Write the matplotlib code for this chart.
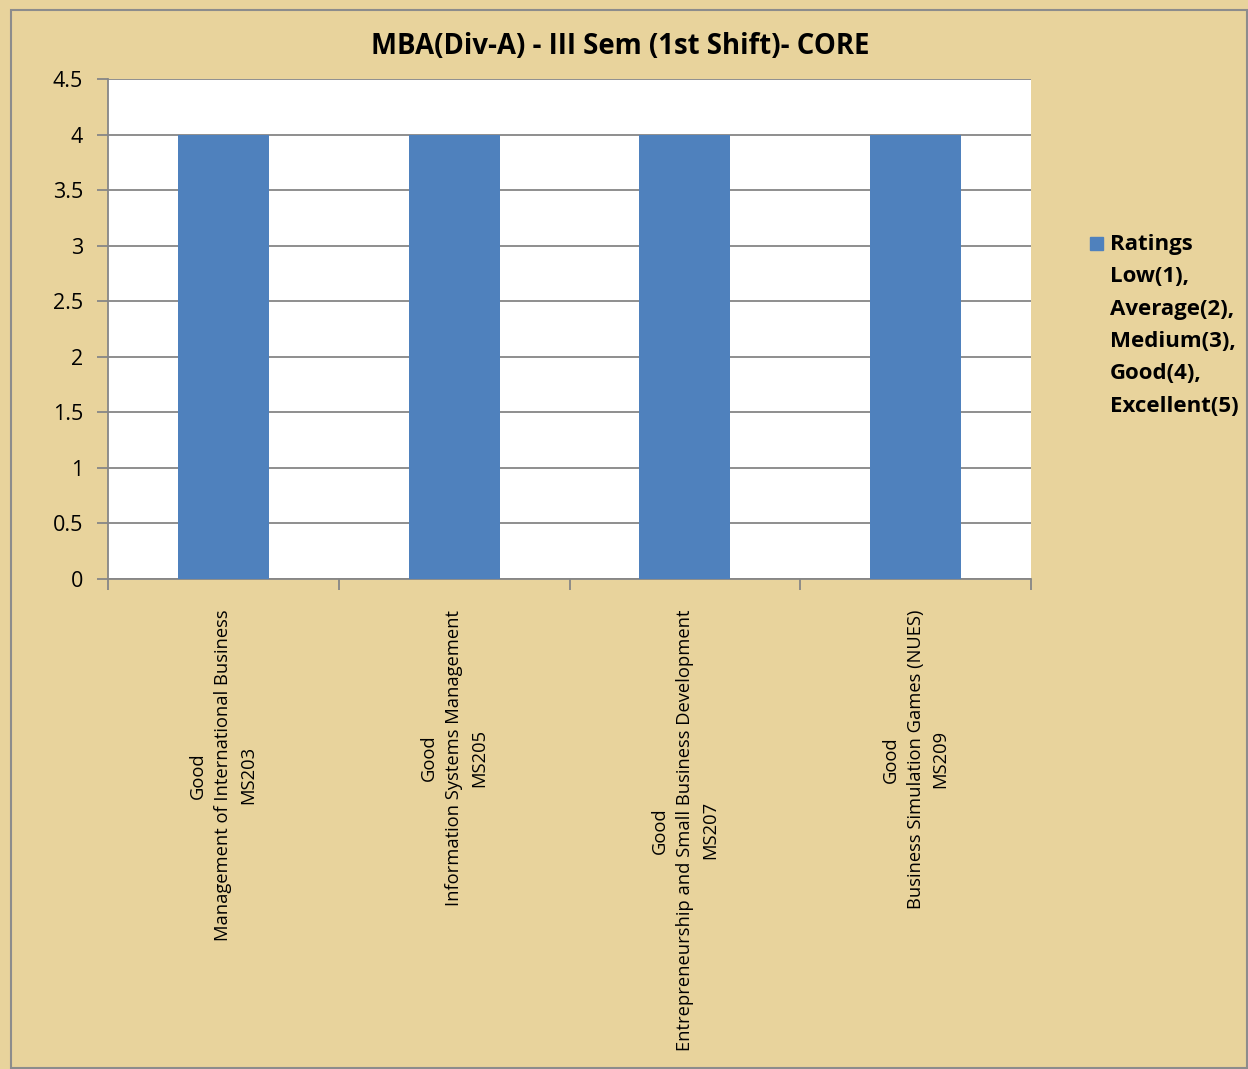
import matplotlib
matplotlib.use("Agg")
import matplotlib.pyplot as plt
import numpy as np
from matplotlib.patches import Rectangle

title = "MBA(Div-A) - III Sem (1st Shift)- CORE"
categories = [
    "Good\nManagement of International Business\nMS203",
    "Good\nInformation Systems Management\nMS205",
    "Good\nEntrepreneurship and Small Business Development\nMS207",
    "Good\nBusiness Simulation Games (NUES)\nMS209",
]
values = [4, 4, 4, 4]
series_name = "Ratings\nLow(1),\nAverage(2),\nMedium(3),\nGood(4),\nExcellent(5)"
yticks = [0, 0.5, 1, 1.5, 2, 2.5, 3, 3.5, 4, 4.5]

W, H = 1248, 1069
bg = "#E8D39C"
bar_color = "#4F81BD"
grid_color = "#868686"
font = "Open Sans"

fig = plt.figure(figsize=(W / 100, H / 100), dpi=100)
fig.patch.set_facecolor(bg)
fig.patches.append(Rectangle((11 / W, 1 - 1068 / H), (1247 - 11) / W, (1068 - 10) / H,
                             transform=fig.transFigure, fill=False,
                             edgecolor="#8C8C8C", linewidth=1.5))

ax = fig.add_axes([108 / W, 1 - 579 / H, (1031 - 108) / W, (579 - 79) / H])
ax.set_facecolor("white")
x = np.arange(len(categories))
ax.bar(x, values, width=0.395, color=bar_color, zorder=3, label=series_name)
ax.set_xlim(-0.5, len(categories) - 0.5)
ax.set_ylim(0, 4.5)
ax.set_yticks(yticks)
ax.set_yticklabels([f"{t:g}" for t in yticks], fontsize=15.5, family=font)
ax.yaxis.grid(True, color=grid_color, linewidth=1.3, zorder=0)
ax.tick_params(axis="y", length=8, width=1.3, color=grid_color, pad=10)

ax.set_xticks(x)
ax.set_xticklabels(categories, rotation=90, fontsize=13.2, family=font,
                   multialignment="center", linespacing=1.5, va="top", ha="center")
ax.tick_params(axis="x", which="major", length=0, pad=22)
ax.set_xticks(np.arange(len(categories) + 1) - 0.5, minor=True)
ax.tick_params(axis="x", which="minor", length=8, width=1.3, color=grid_color)

for s in ["top", "right"]:
    ax.spines[s].set_visible(False)
for s in ["left", "bottom"]:
    ax.spines[s].set_color(grid_color)
    ax.spines[s].set_linewidth(1.3)

fig.text(620 / W, 1 - 46 / H, title, ha="center", va="center",
         fontsize=19.8, fontweight="bold", family=font)

# legend
fig.patches.append(Rectangle((1090 / W, 1 - 250 / H), 13 / W, 13 / H,
                             transform=fig.transFigure, color=bar_color))
fig.text(1110 / W, 1 - 234 / H, series_name, ha="left", va="top",
         fontsize=16, fontweight="bold", family=font, linespacing=1.71)

fig.savefig("out.png", dpi=100, facecolor=bg)
